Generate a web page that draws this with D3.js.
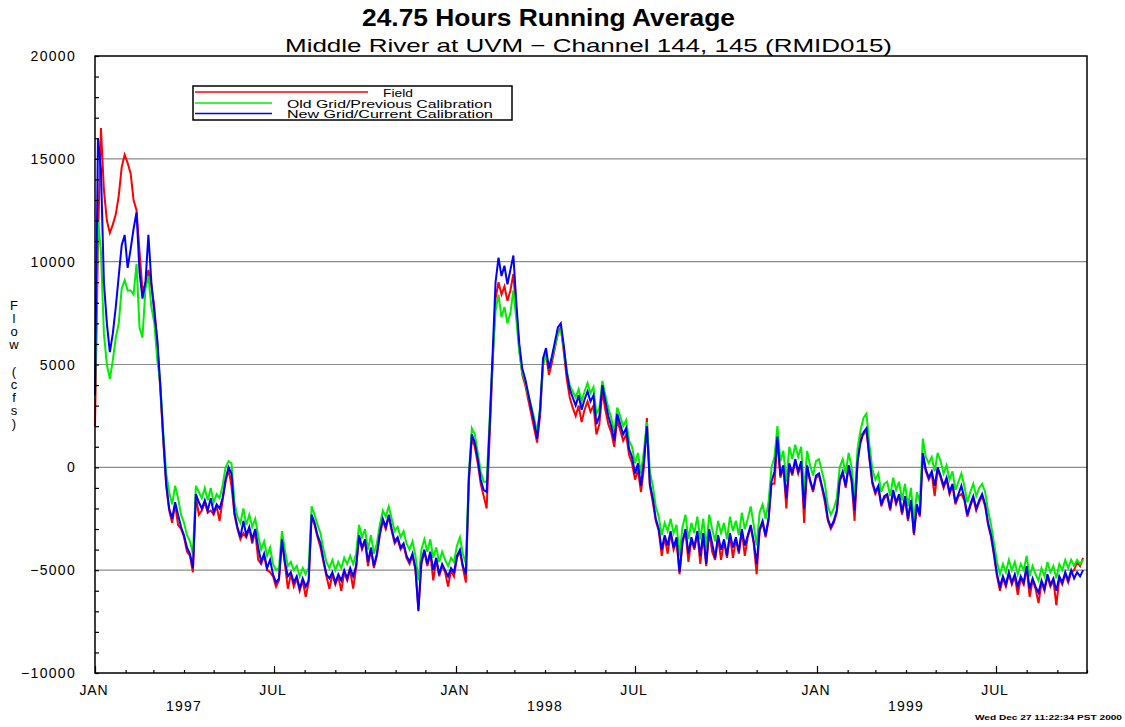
<!DOCTYPE html>
<html><head><meta charset="utf-8">
<script src="https://cdn.jsdelivr.net/npm/d3@7"></script>
<style>body{margin:0;background:#fff}svg{display:block}text{font-family:"Liberation Sans",Arial,sans-serif}</style>
</head><body>
<svg id="c" width="1125" height="727"></svg>
<script>
// ---- data: 24.75-hour running average flow (cfs), one value every 3 days from 1 Jan 1997 ----
const START_DATE = "1997-01-01";
const STEP_DAYS = 3;
const DOMAIN_END = "1999-10-01";
const seriesNames = ["Field", "Old Grid/Previous Calibration", "New Grid/Current Calibration"];
const yTickValues = [-10000, -5000, 0, 5000, 10000, 15000, 20000];
const monthLabels = ["JAN", "JUL"];
const yearLabels = ["1997", "1998", "1999"];

const field = [2000,11000,16500,13500,12000,11400,11800,12300,13200,14600,
15200,14800,14300,13000,12500,10500,8600,8900,9600,8800,
7800,6000,3800,1300,-900,-2100,-2700,-1800,-2800,-3000,
-3400,-4100,-4300,-5100,-1400,-2300,-2100,-1700,-2200,-2100,
-2300,-1900,-2600,-1600,-700,-100,-900,-2300,-3000,-3500,
-3200,-3400,-3000,-3700,-3100,-4500,-4700,-4300,-5000,-5100,
-5300,-5800,-5500,-3600,-4700,-5900,-5200,-5800,-5400,-6000,
-5500,-6300,-5600,-2400,-2800,-3400,-3900,-4600,-5300,-5900,
-5200,-5700,-5300,-6000,-5100,-5500,-5000,-5900,-4900,-3400,
-4000,-3600,-4800,-4000,-4900,-4300,-3300,-2600,-3000,-2400,
-3100,-3700,-3500,-4000,-3800,-4400,-4700,-4300,-5000,-6900,
-4700,-4100,-4800,-4200,-5500,-4500,-5300,-4800,-5100,-5800,
-5000,-5300,-4400,-4100,-4900,-5600,-700,1400,1000,200,
-800,-1400,-2000,1500,5000,8200,9000,8400,8800,8100,
8600,9400,7600,5800,4500,4000,3300,2600,1900,1200,
2500,5000,5500,4500,5100,5800,6500,6800,5600,4300,
3400,2900,2500,3000,2200,2800,3200,2700,3000,1600,
2100,3700,2800,2100,1700,1000,2300,1800,1300,1600,
600,200,-600,-100,-1200,0,2400,-900,-1700,-2600,
-3100,-4300,-3400,-4200,-3200,-4000,-3600,-5200,-3700,-3100,
-4600,-3500,-4000,-3200,-4700,-3300,-4800,-3100,-4100,-4500,
-3400,-4500,-3600,-4400,-3300,-4400,-3500,-4200,-3100,-4300,
-3400,-2900,-3700,-5200,-3100,-2700,-3400,-2600,-800,-800,
1400,-500,0,-2000,100,-400,300,-300,200,-2700,
0,-700,-1200,-500,-400,-1000,-1700,-2600,-3000,-2700,
-2200,-700,-300,-1000,0,-700,-2600,200,1600,1600,
1800,400,-800,-1300,-1000,-1900,-1500,-1400,-2100,-1200,
-1800,-1400,-2300,-1500,-2600,-1700,-3300,-1900,-2400,600,
-200,-600,-300,-1400,-100,-500,-1000,-600,-1300,-900,
-1800,-1400,-1300,-1600,-2400,-1900,-1500,-2100,-1700,-1400,
-1900,-2800,-3400,-4300,-5300,-6000,-5400,-5800,-5200,-5700,
-5300,-6200,-5400,-5700,-4900,-6300,-5500,-5900,-6600,-5600,
-6000,-5300,-5800,-5500,-6700,-5400,-5700,-5200,-5600,-5100,
-5000,-4600,-4800,-4400];

const oldGrid = [3300,12000,10500,6500,5000,4300,5200,6300,7000,8700,9100,8600,8600,8400,9900,6800,6300,8700,9300,7800,
7000,5200,4100,1700,-300,-1200,-1800,-900,-1500,-2300,-2700,-3300,-3600,-4200,-900,-1200,-1500,-1000,-1600,-1000,
-1700,-1300,-1500,-900,0,300,200,-1700,-2400,-2700,-2000,-2800,-2300,-2900,-2500,-3300,-4000,-3600,-4300,-3900,
-4700,-5000,-4900,-3100,-4000,-4800,-4600,-5000,-4800,-5300,-4900,-5200,-4900,-1900,-2300,-2800,-3200,-4000,-4600,-4900,
-4500,-5000,-4600,-4900,-4400,-4700,-4300,-4700,-4200,-2800,-3400,-3000,-4000,-3300,-4200,-3700,-2800,-2100,-2400,-1900,
-2500,-3100,-2900,-3400,-3100,-3700,-4000,-3600,-4300,-5500,-4000,-3500,-4100,-3500,-4400,-3900,-4600,-4100,-4500,-4800,
-4400,-4600,-3800,-3400,-4200,-4700,-300,1900,1600,700,-200,-700,-700,2300,5200,7600,8400,7300,7800,7000,
7500,8600,7200,5600,4600,4200,3500,3000,2400,1700,2900,5000,5500,4900,5300,5900,6500,6700,5800,4700,
4000,3700,3400,3800,3200,3700,4100,3600,3900,2600,2900,4200,3500,2900,2400,1700,2900,2500,2000,2300,
1300,1000,200,700,-300,800,2200,-200,-900,-1900,-2400,-3300,-2700,-3100,-2500,-3200,-2800,-4300,-2900,-2300,
-3500,-2700,-3200,-2400,-3500,-2500,-3900,-2300,-3000,-3600,-2600,-3200,-2700,-3500,-2400,-3100,-2600,-3300,-2200,-3000,
-2500,-1900,-2800,-3800,-2200,-1800,-2500,-1700,0,500,2000,300,800,-700,1000,400,1100,500,1000,-1200,
800,100,-400,300,400,-200,-800,-1900,-2300,-2000,-1500,0,400,-300,700,0,-1500,900,1800,2400,
2600,1100,-100,-600,-300,-1200,-800,-700,-1400,-500,-1100,-700,-1600,-800,-1900,-1000,-2600,-1200,-1700,1400,
500,200,500,-200,700,300,-300,100,-600,-200,-1100,-700,-300,-900,-1700,-1200,-800,-1400,-1000,-800,
-1200,-2100,-2800,-3700,-4600,-5200,-4700,-5100,-4500,-5000,-4600,-5200,-4700,-5000,-4300,-5300,-4800,-5200,-5500,-4900,
-5300,-4600,-5100,-4800,-5400,-4700,-5000,-4500,-4900,-4500,-4800,-4500,-4700,-4500];

const newGrid = [3500,16000,14500,9000,7000,5600,6500,7800,9300,10800,11300,9700,10600,11600,12400,9500,8200,9000,11300,9000,
7500,6200,4000,1500,-800,-2000,-2500,-1700,-2300,-2900,-3300,-3900,-4200,-4900,-1300,-1700,-2000,-1600,-2100,-1500,
-2200,-1800,-2000,-1500,-600,0,-300,-2200,-2900,-3400,-2600,-3300,-2900,-3500,-3000,-3900,-4600,-4200,-4900,-4500,
-5200,-5600,-5400,-3500,-4600,-5300,-5100,-5600,-5300,-5900,-5400,-5800,-5500,-2300,-2700,-3300,-3700,-4500,-5200,-5400,
-5100,-5600,-5200,-5500,-5000,-5400,-4900,-5300,-4800,-3300,-3900,-3500,-4600,-3900,-4800,-4200,-3200,-2500,-2900,-2300,
-3000,-3600,-3400,-3900,-3700,-4300,-4600,-4200,-4900,-7000,-4600,-4000,-4700,-4100,-5000,-4400,-5200,-4700,-5000,-5300,
-4900,-5100,-4300,-4000,-4800,-5200,-500,1600,1200,400,-600,-1100,-1200,2000,5500,9000,10200,9300,9800,8900,
9600,10300,8000,6000,4800,4300,3600,2900,2200,1400,2800,5300,5800,4800,5400,6100,6800,7000,5900,4600,
3800,3400,3000,3500,2800,3300,3700,3200,3500,2100,2500,4000,3200,2500,2000,1300,2600,2100,1600,1900,
900,500,-300,200,-900,300,2000,-800,-1500,-2500,-3000,-4000,-3300,-3800,-3100,-3900,-3400,-5100,-3600,-3000,
-4200,-3400,-3900,-3100,-4300,-3200,-4700,-3000,-3700,-4400,-3300,-4000,-3500,-4300,-3200,-3900,-3400,-4100,-3000,-3800,
-3300,-2800,-3600,-4700,-3000,-2600,-3300,-2500,-700,-200,1500,-400,100,-1500,200,-300,400,-200,300,-2000,
100,-600,-1100,-400,-300,-900,-1500,-2500,-2900,-2600,-2100,-600,-200,-900,100,-600,-2100,300,1200,1700,
1900,500,-700,-1200,-900,-1800,-1400,-1300,-2000,-1100,-1700,-1300,-2200,-1400,-2500,-1600,-3200,-1800,-2300,700,
-100,-500,-200,-900,0,-400,-900,-500,-1200,-800,-1700,-1300,-900,-1500,-2300,-1800,-1400,-2000,-1600,-1300,
-1800,-2700,-3300,-4200,-5200,-5800,-5300,-5700,-5100,-5600,-5200,-5800,-5300,-5600,-4800,-5900,-5400,-5800,-6100,-5500,
-5900,-5200,-5700,-5400,-6000,-5300,-5600,-5100,-5500,-5000,-5400,-5100,-5300,-5000];

// ---- layout ----
const L = 95, R = 1087, T = 56, B = 673;
const svg = d3.select("#c");
const parse = d3.utcParse("%Y-%m-%d");
const t0 = parse(START_DATE);
const x = d3.scaleUtc().domain([t0, parse(DOMAIN_END)]).range([L, R]);
const y = d3.scaleLinear().domain([-10000, 20000]).range([B, T]);
const dateAt = i => d3.utcDay.offset(t0, i * STEP_DAYS);

// grid lines
svg.append("g").selectAll("line").data(yTickValues.filter(v => v > -10000 && v < 20000)).join("line")
  .attr("x1", L).attr("x2", R).attr("y1", d => y(d)).attr("y2", d => y(d))
  .attr("stroke", "#8c8c8c").attr("stroke-width", 1.2);

// series
const line = d3.line().x((d, i) => x(dateAt(i))).y(d => y(d));
const colors = ["#ff0000", "#00ee00", "#0000ff"];
[field, oldGrid, newGrid].forEach((s, k) => {
  svg.append("path").attr("d", line(s)).attr("fill", "none")
    .attr("stroke", colors[k]).attr("stroke-width", 2).attr("stroke-linejoin", "miter");
});

// frame
svg.append("rect").attr("x", L).attr("y", T).attr("width", R - L).attr("height", B - T)
  .attr("fill", "none").attr("stroke", "#000").attr("stroke-width", 1.5);

// y axis ticks (inward)
const yAxis = d3.axisLeft(y).tickValues(d3.range(-10000, 20001, 1000)).tickSize(-4).tickFormat("");
const gy = svg.append("g").attr("transform", `translate(${L},0)`).call(yAxis);
gy.select(".domain").remove();
gy.selectAll(".tick line").attr("stroke", "#000").attr("stroke-width", 1.2);
svg.append("g").selectAll("text").data(yTickValues).join("text")
  .attr("x", 76).attr("y", d => y(d) + 5).attr("text-anchor", "end")
  .attr("font-size", 14).attr("letter-spacing", 1.3).attr("fill", "#000")
  .text(d => d < 0 ? "\u2212" + Math.abs(d) : d);

// x axis ticks (inward, monthly)
const months = x.ticks(d3.utcMonth.every(1));
const xAxis = d3.axisBottom(x).tickValues(months).tickFormat("").tickSize(0);
const gx = svg.append("g").attr("transform", `translate(0,${B})`).call(xAxis);
gx.select(".domain").remove();
gx.selectAll(".tick").append("line").attr("y1", 0)
  .attr("y2", d => (d.getUTCMonth() % 6 === 0) ? -7 : -3)
  .attr("stroke", "#000").attr("stroke-width", 1.2);

// month labels
svg.append("g").selectAll("text").data(months.filter(d => d.getUTCMonth() % 6 === 0)).join("text")
  .attr("x", d => x(d) - 1).attr("y", 695).attr("text-anchor", "middle")
  .attr("font-size", 14).attr("letter-spacing", 0.8)
  .text(d => monthLabels[d.getUTCMonth() === 0 ? 0 : 1]);

// year labels (centered near 1 April of each year)
svg.append("g").selectAll("text").data(yearLabels).join("text")
  .attr("x", d => x(parse(d + "-04-01"))).attr("y", 711).attr("text-anchor", "middle")
  .attr("font-size", 14).attr("letter-spacing", 1.2)
  .text(d => d);

// y axis title, stacked characters
const yTitle = "Flow (cfs)".split("");
svg.append("g").selectAll("text").data(yTitle).join("text")
  .attr("x", 14).attr("y", (d, i) => 310 + i * 13.1).attr("text-anchor", "middle")
  .attr("font-size", 13).text(d => d);

// titles
svg.append("text").attr("x", 362).attr("y", 26).attr("font-size", 23).attr("font-weight", "bold")
  .attr("textLength", 373).attr("lengthAdjust", "spacingAndGlyphs").text("24.75 Hours Running Average");
svg.append("text").attr("x", 285).attr("y", 52).attr("font-size", 19)
  .attr("textLength", 607).attr("lengthAdjust", "spacingAndGlyphs")
  .text("Middle River at UVM \u2212 Channel 144, 145 (RMID015)");

// legend
const lg = svg.append("g");
lg.append("rect").attr("x", 193).attr("y", 86).attr("width", 319).attr("height", 34)
  .attr("fill", "#fff").attr("stroke", "#000").attr("stroke-width", 1.5);
const legendRows = [
  {x2: 368, ty: 96.5, tx: 383, tl: 30},
  {x2: 272, ty: 107.5, tx: 287, tl: 205},
  {x2: 272, ty: 118, tx: 287, tl: 206}
];
legendRows.forEach((r, k) => {
  const ly = r.ty - 4.5;
  lg.append("line").attr("x1", 195).attr("x2", r.x2).attr("y1", ly).attr("y2", ly)
    .attr("stroke", colors[k]).attr("stroke-width", 1.3);
  lg.append("text").attr("x", r.tx).attr("y", r.ty).attr("font-size", 10.5)
    .attr("textLength", r.tl).attr("lengthAdjust", "spacingAndGlyphs").text(seriesNames[k]);
});

// footer stamp
svg.append("text").attr("x", 975).attr("y", 720).attr("font-size", 7).attr("font-weight", "bold")
  .attr("textLength", 147).attr("lengthAdjust", "spacingAndGlyphs").text("Wed Dec 27 11:22:34 PST 2000");
</script>
</body></html>
